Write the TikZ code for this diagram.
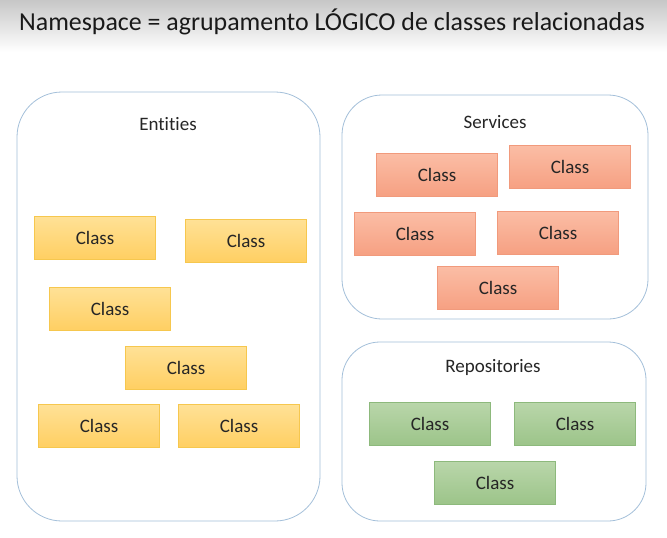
\documentclass[tikz,border=0pt]{standalone}
\usepackage{fontspec}
\setmainfont{Carlito}[Ligatures=NoCommon]
\begin{document}
\begin{tikzpicture}[x=1pt,y=-1pt,
  group/.style={draw=groupblue, line width=0.8pt, rounded corners=#1},
  group/.default=40pt,
  glabel/.style={font=\fontsize{19}{21}\selectfont, text=black!85},
  cls/.style={minimum width=121pt, minimum height=43pt, inner sep=0pt, font=\fontsize{19}{21}\selectfont, text=black!85, line width=0.6pt},
  ycls/.style={cls, draw=ybord, top color=ytop, bottom color=ybot},
  ocls/.style={cls, draw=obord, top color=otop, bottom color=obot},
  gcls/.style={cls, draw=gbord, top color=gtop, bottom color=gbot}
]
\definecolor{groupblue}{HTML}{A4C0DA}
\definecolor{ytop}{HTML}{FFE196}
\definecolor{ybot}{HTML}{FFCF62}
\definecolor{ybord}{HTML}{F6C74E}
\definecolor{otop}{HTML}{FBBDA5}
\definecolor{obot}{HTML}{F6A082}
\definecolor{obord}{HTML}{F19A7C}
\definecolor{gtop}{HTML}{B9D6AA}
\definecolor{gbot}{HTML}{9CC489}
\definecolor{gbord}{HTML}{8DB97C}
\useasboundingbox (0,0) rectangle (667,538);
\fill[white] (0,0) rectangle (667,538);
\shade[top color=black!22, bottom color=white] (0,0) rectangle (667,52);
\node[font=\fontsize{25.9}{28}\selectfont, text=black!90] (title) at (332,22) {Namespace = agrupamento LÓGICO de classes relacionadas};
% groups
\draw[group=45pt] (17,92) rectangle (320,521);
\node[glabel] (ent) at (168,124) {Entities};
\draw[group=40pt] (342,95) rectangle (648,319);
\node[glabel] (serv) at (495,122) {Services};
\draw[group=38pt] (342,342) rectangle (646,521);
\node[glabel] (rep) at (493,367) {Repositories};
% entities
\node[ycls] (e1) at (95,238) {Class};
\node[ycls] (e2) at (246,241) {Class};
\node[ycls] (e3) at (110,309) {Class};
\node[ycls] (e4) at (186,368) {Class};
\node[ycls] (e5) at (99,426) {Class};
\node[ycls] (e6) at (239,426) {Class};
% services
\node[ocls] (s1) at (437,175) {Class};
\node[ocls] (s2) at (570,167) {Class};
\node[ocls] (s3) at (415,234) {Class};
\node[ocls] (s4) at (558,233) {Class};
\node[ocls] (s5) at (498,288) {Class};
% repositories
\node[gcls] (r1) at (430,424) {Class};
\node[gcls] (r2) at (575,424) {Class};
\node[gcls] (r3) at (495,483) {Class};
\end{tikzpicture}
\end{document}
